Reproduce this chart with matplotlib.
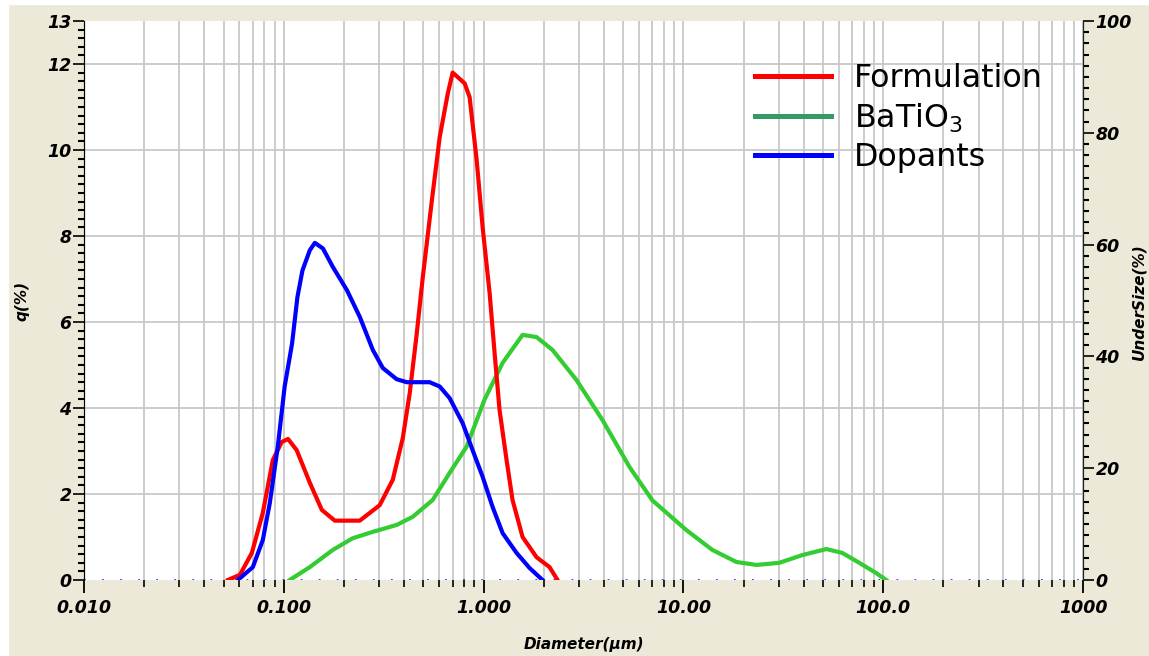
import matplotlib
matplotlib.use("Agg")
import matplotlib.pyplot as plt
from matplotlib.lines import Line2D
from matplotlib.patches import Rectangle
from matplotlib.ticker import LogLocator, MultipleLocator, NullFormatter

######################################################################################
# DATA

red_d = [0.0525, 0.0603, 0.0692, 0.0785, 0.0881, 0.0977, 0.105, 0.116, 0.135, 0.155,
         0.180, 0.240, 0.302, 0.351, 0.394, 0.427, 0.462, 0.495, 0.550, 0.603, 0.661,
         0.700, 0.804, 0.851, 0.923, 0.989, 1.072, 1.135, 1.202, 1.303, 1.396, 1.567,
         1.841, 2.138, 2.344]
red_q = [0.0, 0.12, 0.63, 1.56, 2.79, 3.21, 3.28, 3.02, 2.26, 1.63,
         1.38, 1.38, 1.74, 2.33, 3.3, 4.35, 5.7, 7.0, 8.8, 10.3, 11.3,
         11.8, 11.55, 11.23, 9.77, 8.2, 6.67, 5.28, 3.95, 2.79, 1.86, 1.0,
         0.53, 0.3, 0.0]

blue_d = [0.0589, 0.070, 0.0785, 0.0851, 0.0933, 0.101, 0.110, 0.117, 0.124, 0.135,
          0.143, 0.157, 0.176, 0.207, 0.240, 0.279, 0.313, 0.367, 0.412, 0.537,
          0.603, 0.676, 0.785, 0.881, 0.989, 1.109, 1.245, 1.462, 1.698, 1.972]
blue_q = [0.0, 0.3, 0.93, 1.79, 3.1, 4.5, 5.5, 6.58, 7.2, 7.67,
          7.84, 7.71, 7.28, 6.74, 6.12, 5.35, 4.93, 4.67, 4.6, 4.6,
          4.5, 4.23, 3.65, 3.02, 2.4, 1.7, 1.09, 0.63, 0.28, 0.0]

green_d = [0.107, 0.135, 0.176, 0.221, 0.279, 0.367, 0.442, 0.556, 0.676, 0.822,
           1.012, 1.245, 1.567, 1.841, 2.213, 2.917, 3.936, 5.37, 7.0, 10.35,
           13.96, 18.4, 23.2, 30.2, 39.4, 51.9, 62.4, 75.9, 92.3, 103.5]
green_q = [0.0, 0.3, 0.7, 0.97, 1.12, 1.28, 1.47, 1.86, 2.49, 3.1,
           4.2, 5.05, 5.7, 5.65, 5.35, 4.65, 3.72, 2.63, 1.85, 1.16,
           0.7, 0.42, 0.35, 0.4, 0.58, 0.72, 0.63, 0.4, 0.16, 0.0]

names = ["Formulation", "BaTiO$_3$", "Dopants"]
x_ticks = [0.01, 0.1, 1, 10, 100, 1000]
x_labels = ["0.010", "0.100", "1.000", "10.00", "100.0", "1000"]
y_ticks = [0, 2, 4, 6, 8, 10, 12, 13]
y2_ticks = [0, 20, 40, 60, 80, 100]

######################################################################################
# FIGURE

W, H = 1149, 656
beige = "#ECE9D8"
fig = plt.figure(figsize=(W / 100, H / 100), dpi=100, facecolor=beige)
# thin white border at the top and left of the screenshot
fig.patches.append(Rectangle((0, 0), 8 / W, 1, transform=fig.transFigure, color="white", zorder=0))
fig.patches.append(Rectangle((0, 1 - 4 / H), 1, 4 / H, transform=fig.transFigure, color="white", zorder=0))

ax = fig.add_axes([84 / W, 76 / H, (1083 - 84) / W, (580 - 21) / H])
ax.set_facecolor("white")

lw = 3.0
ax.plot(red_d, red_q, color="#FF0000", lw=lw, zorder=4)
ax.plot(green_d, green_q, color="#33CC33", lw=lw, zorder=3)
ax.plot(blue_d, blue_q, color="#0000FF", lw=lw, zorder=4)
ax.axhline(0, color="#3333FF", lw=1.3, linestyle=(0, (1, 9)), zorder=2)

ax.set_xscale("log")
ax.set_xlim(0.01, 1000)
ax.set_ylim(0, 13)

tfont = dict(fontsize=12.5, fontweight="bold", fontstyle="italic")
lfont = dict(fontsize=11, fontweight="bold", fontstyle="italic")
ax.set_xticks(x_ticks)
ax.set_xticklabels(x_labels, **tfont)
ax.xaxis.set_minor_locator(LogLocator(base=10, subs=range(2, 10)))
ax.xaxis.set_minor_formatter(NullFormatter())
ax.set_yticks(y_ticks)
ax.set_yticklabels([str(v) for v in y_ticks], **tfont)
ax.yaxis.set_minor_locator(MultipleLocator(0.2))

ax.tick_params(axis="x", which="major", length=9, width=1.3, direction="out", pad=5)
ax.tick_params(axis="x", which="minor", length=5, width=1.2, direction="out")
ax.tick_params(axis="y", which="major", length=8, width=1.2, direction="out", pad=1)
ax.tick_params(axis="y", which="minor", length=4, width=1.5, direction="out")

ax.grid(True, which="both", axis="x", color="#C8C8C8", lw=1.3, zorder=1)
ax.grid(True, which="major", axis="y", color="#C8C8C8", lw=1.3, zorder=1)
ax.get_ygridlines()[-1].set_visible(False)
ax.get_ygridlines()[0].set_visible(False)

for s in ["top", "bottom"]:
    ax.spines[s].set_visible(False)
ax.spines["left"].set_color("#222222")
ax.spines["right"].set_color("#222222")

fig.text(584 / W, 1 - 645 / H, "Diameter(µm)", ha="center", va="center", **lfont)
fig.text(22 / W, 1 - 301 / H, "q(%)", rotation=90, ha="center", va="center", **lfont)

# right axis (cumulative undersize scale)
ax2 = ax.twinx()
ax2.set_ylim(0, 100)
ax2.set_yticks(y2_ticks)
ax2.set_yticklabels([str(v) for v in y2_ticks], **tfont)
ax2.yaxis.set_minor_locator(MultipleLocator(2))
ax2.tick_params(axis="y", which="major", length=8, width=1.2, direction="out", pad=1)
ax2.tick_params(axis="y", which="minor", length=4, width=1.5, direction="out")
for s in ["top", "bottom"]:
    ax2.spines[s].set_visible(False)
ax2.spines["right"].set_color("#222222")
fig.text(1139 / W, 1 - 302 / H, "UnderSize(%)", rotation=90, ha="center", va="center", **lfont)

######################################################################################
# LEGEND

handles = [Line2D([], [], color="#FF0000", lw=3.6),
           Line2D([], [], color="#339966", lw=3.6),
           Line2D([], [], color="#0000FF", lw=3.6)]
leg = ax2.legend(handles, names, loc="upper left", bbox_to_anchor=(739 / W, 1 - 47 / H),
                 bbox_transform=fig.transFigure, frameon=False, fontsize=22.8,
                 handlelength=2.4, handletextpad=0.72, labelspacing=0.24, borderpad=0)

fig.savefig("out.png", dpi=100, facecolor=beige)
